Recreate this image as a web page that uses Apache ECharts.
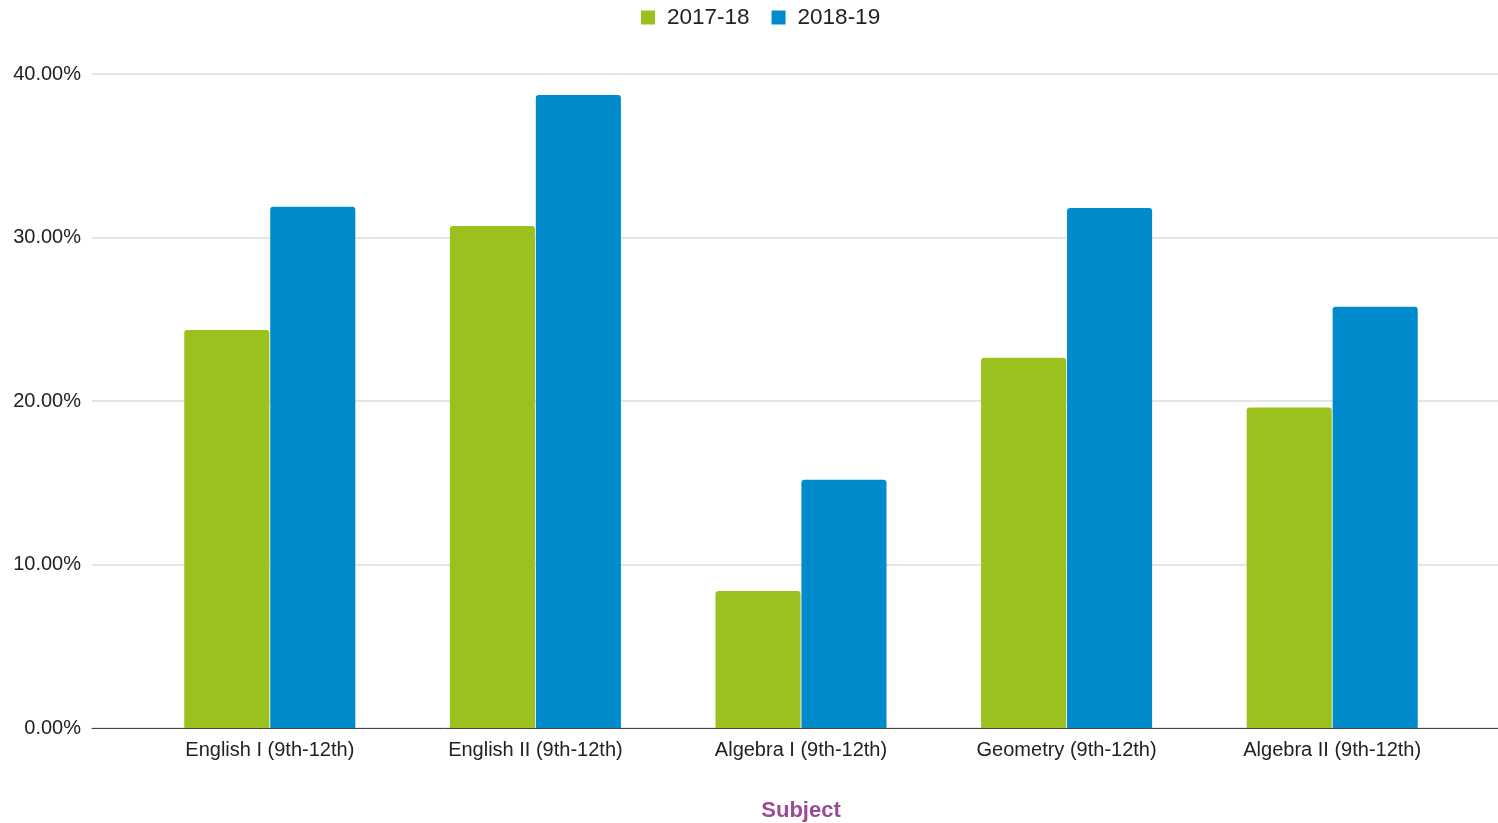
<!DOCTYPE html>
<html>
<head>
<meta charset="utf-8">
<script src="https://cdn.jsdelivr.net/npm/echarts@6/dist/echarts.min.js"></script>
<style>
  html, body { margin: 0; padding: 0; background: #fff; }
  #main { width: 1498px; height: 823px; }
</style>
</head>
<body>
<div id="main"></div>
<script>
var subjects = ['English I (9th-12th)', 'English II (9th-12th)', 'Algebra I (9th-12th)', 'Geometry (9th-12th)', 'Algebra II (9th-12th)'];
var year1718 = [24.35, 30.7, 8.38, 22.65, 19.6];
var year1819 = [31.88, 38.72, 15.18, 31.8, 25.77];
var yTicks = [0, 10, 20, 30, 40];

var font = 'Liberation Sans, Arial, sans-serif';
var chart = echarts.init(document.getElementById('main'));

var option = {
  animation: false,
  textStyle: { fontFamily: font },
  legend: {
    top: 1,
    left: 636,
    itemWidth: 14,
    itemHeight: 14,
    itemGap: 22,
    icon: 'rect',
    textStyle: { fontSize: 22.5, color: '#222', fontFamily: font, padding: [0, 0, 0, 7] },
    data: ['2017-18', '2018-19']
  },
  grid: [
    // background grid: gridlines + axis line across the whole width
    { left: 92, right: 0, top: 74, bottom: 95, outerBoundsMode: 'none' },
    // bars sit in a narrower band
    { left: 137, right: 33, top: 74, bottom: 95, outerBoundsMode: 'none' }
  ],
  xAxis: [
    {
      gridIndex: 0, type: 'value', min: 0, max: 1,
      axisLine: { show: true, onZero: false, lineStyle: { color: '#444', width: 1 } },
      axisTick: { show: false }, axisLabel: { show: false }, splitLine: { show: false }
    },
    {
      gridIndex: 1, type: 'category', data: subjects,
      axisLine: { show: false }, axisTick: { show: false },
      axisLabel: { fontSize: 20, color: '#222', margin: 12, fontFamily: font },
      name: 'Subject', nameLocation: 'middle', nameGap: 72,
      nameTextStyle: { fontSize: 22, fontWeight: 'bold', color: '#9b4a97', fontFamily: font }
    }
  ],
  yAxis: [
    {
      gridIndex: 0, type: 'value', min: yTicks[0], max: yTicks[yTicks.length - 1], interval: 10,
      axisLine: { show: false }, axisTick: { show: false },
      axisLabel: { fontSize: 20, color: '#222', margin: 11, fontFamily: font,
        formatter: function (v) { return v.toFixed(2) + '%'; } },
      splitLine: { lineStyle: { color: '#dcdcdc', width: 1.5 } }
    },
    {
      gridIndex: 1, type: 'value', min: 0, max: 40, interval: 10,
      axisLine: { show: false }, axisTick: { show: false },
      axisLabel: { show: false }, splitLine: { show: false }
    }
  ],
  series: [
    {
      name: '2017-18', type: 'bar', xAxisIndex: 1, yAxisIndex: 1,
      data: year1718, barGap: '1%', barCategoryGap: '35.6%',
      itemStyle: { color: '#9bc11f', borderRadius: [3, 3, 0, 0] }
    },
    {
      name: '2018-19', type: 'bar', xAxisIndex: 1, yAxisIndex: 1,
      data: year1819, barGap: '1%', barCategoryGap: '35.6%',
      itemStyle: { color: '#008bcc', borderRadius: [3, 3, 0, 0] }
    }
  ]
};

chart.setOption(option);
</script>
</body>
</html>
